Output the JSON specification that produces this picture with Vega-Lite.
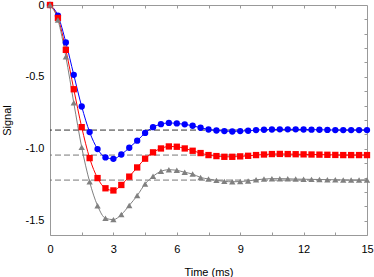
{
  "$schema": "https://vega.github.io/schema/vega-lite/v6.json",
  "width": 317,
  "height": 230,
  "autosize": {"type": "none"},
  "padding": {"left": 50, "top": 5, "right": 7, "bottom": 42},
  "config": {
    "view": {"stroke": "#999999", "strokeWidth": 1},
    "font": "Liberation Sans",
    "axis": {
      "labelFont": "Liberation Sans", "titleFont": "Liberation Sans",
      "labelFontSize": 11, "titleFontSize": 11, "titleFontWeight": "normal",
      "labelColor": "#000000", "titleColor": "#000000",
      "domain": false, "grid": false, "tickColor": "#999999", "tickWidth": 1
    }
  },
  "datasets": {
    "levels": [
      {"series": "blue", "level": -0.87},
      {"series": "red", "level": -1.044},
      {"series": "gray", "level": -1.218}
    ],
    "curves": [
      {"series":"blue","t":0,"v":0},{"series":"blue","t":0.375,"v":-0.074},{"series":"blue","t":0.75,"v":-0.26},{"series":"blue","t":1.125,"v":-0.486},{"series":"blue","t":1.5,"v":-0.706},{"series":"blue","t":1.875,"v":-0.884},{"series":"blue","t":2.25,"v":-1.002},{"series":"blue","t":2.625,"v":-1.06},{"series":"blue","t":3,"v":-1.07},{"series":"blue","t":3.375,"v":-1.04},{"series":"blue","t":3.75,"v":-0.993},{"series":"blue","t":4.125,"v":-0.944},{"series":"blue","t":4.5,"v":-0.89},{"series":"blue","t":4.875,"v":-0.85},{"series":"blue","t":5.25,"v":-0.829},{"series":"blue","t":5.625,"v":-0.82},{"series":"blue","t":6,"v":-0.824},{"series":"blue","t":6.375,"v":-0.83},{"series":"blue","t":6.75,"v":-0.84},{"series":"blue","t":7.125,"v":-0.854},{"series":"blue","t":7.5,"v":-0.866},{"series":"blue","t":7.875,"v":-0.873},{"series":"blue","t":8.25,"v":-0.877},{"series":"blue","t":8.625,"v":-0.88},{"series":"blue","t":9,"v":-0.877},{"series":"blue","t":9.375,"v":-0.875},{"series":"blue","t":9.75,"v":-0.87},{"series":"blue","t":10.125,"v":-0.868},{"series":"blue","t":10.5,"v":-0.866},{"series":"blue","t":10.875,"v":-0.865},{"series":"blue","t":11.25,"v":-0.865},{"series":"blue","t":11.625,"v":-0.865},{"series":"blue","t":12,"v":-0.866},{"series":"blue","t":12.375,"v":-0.867},{"series":"blue","t":12.75,"v":-0.868},{"series":"blue","t":13.125,"v":-0.869},{"series":"blue","t":13.5,"v":-0.87},{"series":"blue","t":13.875,"v":-0.87},{"series":"blue","t":14.25,"v":-0.87},{"series":"blue","t":14.625,"v":-0.87},{"series":"blue","t":15,"v":-0.87},
      {"series":"red","t":0,"v":0},{"series":"red","t":0.375,"v":-0.09},{"series":"red","t":0.75,"v":-0.312},{"series":"red","t":1.125,"v":-0.586},{"series":"red","t":1.5,"v":-0.85},{"series":"red","t":1.875,"v":-1.065},{"series":"red","t":2.25,"v":-1.204},{"series":"red","t":2.625,"v":-1.275},{"series":"red","t":3,"v":-1.29},{"series":"red","t":3.375,"v":-1.252},{"series":"red","t":3.75,"v":-1.194},{"series":"red","t":4.125,"v":-1.13},{"series":"red","t":4.5,"v":-1.069},{"series":"red","t":4.875,"v":-1.025},{"series":"red","t":5.25,"v":-0.998},{"series":"red","t":5.625,"v":-0.984},{"series":"red","t":6,"v":-0.986},{"series":"red","t":6.375,"v":-0.998},{"series":"red","t":6.75,"v":-1.014},{"series":"red","t":7.125,"v":-1.03},{"series":"red","t":7.5,"v":-1.044},{"series":"red","t":7.875,"v":-1.051},{"series":"red","t":8.25,"v":-1.056},{"series":"red","t":8.625,"v":-1.056},{"series":"red","t":9,"v":-1.053},{"series":"red","t":9.375,"v":-1.049},{"series":"red","t":9.75,"v":-1.044},{"series":"red","t":10.125,"v":-1.04},{"series":"red","t":10.5,"v":-1.037},{"series":"red","t":10.875,"v":-1.036},{"series":"red","t":11.25,"v":-1.037},{"series":"red","t":11.625,"v":-1.038},{"series":"red","t":12,"v":-1.039},{"series":"red","t":12.375,"v":-1.04},{"series":"red","t":12.75,"v":-1.041},{"series":"red","t":13.125,"v":-1.042},{"series":"red","t":13.5,"v":-1.043},{"series":"red","t":13.875,"v":-1.044},{"series":"red","t":14.25,"v":-1.044},{"series":"red","t":14.625,"v":-1.044},{"series":"red","t":15,"v":-1.044},
      {"series":"gray","t":0,"v":0},{"series":"gray","t":0.375,"v":-0.104},{"series":"gray","t":0.75,"v":-0.36},{"series":"gray","t":1.125,"v":-0.68},{"series":"gray","t":1.5,"v":-0.99},{"series":"gray","t":1.875,"v":-1.23},{"series":"gray","t":2.25,"v":-1.396},{"series":"gray","t":2.625,"v":-1.484},{"series":"gray","t":3,"v":-1.493},{"series":"gray","t":3.375,"v":-1.458},{"series":"gray","t":3.75,"v":-1.394},{"series":"gray","t":4.125,"v":-1.326},{"series":"gray","t":4.5,"v":-1.245},{"series":"gray","t":4.875,"v":-1.192},{"series":"gray","t":5.25,"v":-1.157},{"series":"gray","t":5.625,"v":-1.146},{"series":"gray","t":6,"v":-1.15},{"series":"gray","t":6.375,"v":-1.164},{"series":"gray","t":6.75,"v":-1.176},{"series":"gray","t":7.125,"v":-1.2},{"series":"gray","t":7.5,"v":-1.21},{"series":"gray","t":7.875,"v":-1.22},{"series":"gray","t":8.25,"v":-1.227},{"series":"gray","t":8.625,"v":-1.23},{"series":"gray","t":9,"v":-1.228},{"series":"gray","t":9.375,"v":-1.224},{"series":"gray","t":9.75,"v":-1.216},{"series":"gray","t":10.125,"v":-1.211},{"series":"gray","t":10.5,"v":-1.208},{"series":"gray","t":10.875,"v":-1.208},{"series":"gray","t":11.25,"v":-1.209},{"series":"gray","t":11.625,"v":-1.211},{"series":"gray","t":12,"v":-1.212},{"series":"gray","t":12.375,"v":-1.213},{"series":"gray","t":12.75,"v":-1.214},{"series":"gray","t":13.125,"v":-1.215},{"series":"gray","t":13.5,"v":-1.216},{"series":"gray","t":13.875,"v":-1.217},{"series":"gray","t":14.25,"v":-1.218},{"series":"gray","t":14.625,"v":-1.218},{"series":"gray","t":15,"v":-1.218}
    ]
  },
  "layer": [
    {
      "data": {"name": "levels"},
      "mark": {"type": "rule", "strokeDash": [6, 3], "strokeWidth": 1},
      "encoding": {
        "y": {"field": "level", "type": "quantitative", "scale": {"domain": [-1.6, 0], "nice": false, "zero": false}, "axis": null},
        "stroke": {"field": "series", "type": "nominal", "scale": {"domain": ["blue", "red", "gray"], "range": ["#333333", "#777777", "#777777"]}, "legend": null}
      }
    },
    {
      "data": {"name": "curves"},
      "mark": {"type": "line", "strokeWidth": 1, "interpolate": "monotone"},
      "encoding": {
        "x": {"field": "t", "type": "quantitative", "scale": {"domain": [0, 15], "nice": false},
          "axis": {"orient": "bottom", "values": [0, 1.5, 3, 4.5, 6, 7.5, 9, 10.5, 12, 13.5, 15], "labelExpr": "datum.value % 3 == 0 ? datum.label : ''", "tickSize": -3, "labelPadding": 11, "labelFlush": false, "title": "Time (ms)", "titlePadding": 12}},
        "y": {"field": "v", "type": "quantitative", "scale": {"domain": [-1.6, 0], "nice": false, "zero": false},
          "axis": {"orient": "left", "values": [0, -0.5, -1, -1.5], "ticks": false, "labelPadding": 6, "labelFlush": false, "labelExpr": "datum.value == 0 ? '0' : (datum.value == -1 ? '-1.0' : toString(datum.value))", "title": "Signal", "titlePadding": 13}},
        "color": {"field": "series", "type": "nominal", "scale": {"domain": ["blue", "red", "gray"], "range": ["#0000ff", "#ff0000", "#808080"]}, "legend": null}
      }
    },
    {
      "data": {"name": "curves"},
      "mark": {"type": "point", "filled": true, "opacity": 1, "size": 40},
      "encoding": {
        "x": {"field": "t", "type": "quantitative", "scale": {"domain": [0, 15], "nice": false},
          "axis": {"orient": "top", "values": [1.5, 3, 4.5, 6, 7.5, 9, 10.5, 12, 13.5], "labels": false, "tickSize": -3, "title": null}},
        "y": {"field": "v", "type": "quantitative", "scale": {"domain": [-1.6, 0], "nice": false, "zero": false},
          "axis": {"orient": "right", "values": [-0.1, -0.2, -0.3, -0.4, -0.5, -0.6, -0.7, -0.8, -0.9, -1, -1.1, -1.2, -1.3, -1.4, -1.5], "labels": false, "tickSize": -3, "title": null}},
        "color": {"field": "series", "type": "nominal", "scale": {"domain": ["blue", "red", "gray"], "range": ["#0000ff", "#ff0000", "#808080"]}, "legend": null},
        "shape": {"field": "series", "type": "nominal", "scale": {"domain": ["blue", "red", "gray"], "range": ["circle", "square", "triangle-up"]}, "legend": null}
      }
    }
  ],
  "resolve": {"axis": {"x": "independent", "y": "independent"}}
}
